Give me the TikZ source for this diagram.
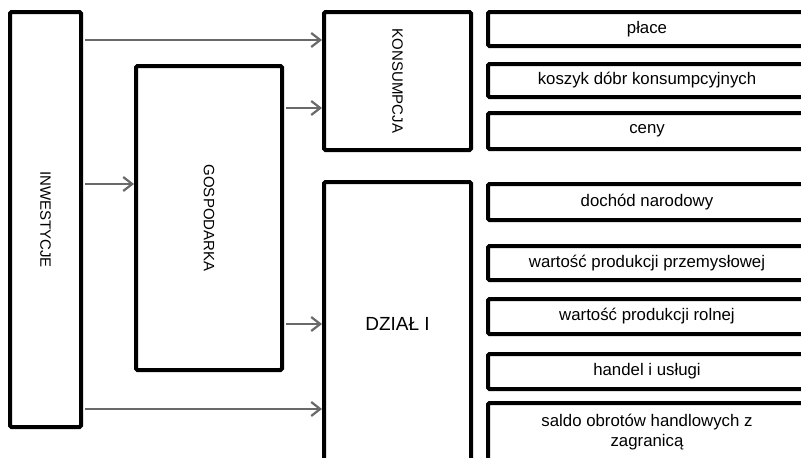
\documentclass[tikz,border=0pt]{standalone}
\usepackage{fontspec}
\setmainfont{Liberation Sans}
\usetikzlibrary{arrows.meta, positioning}
\definecolor{arrowgray}{RGB}{105, 105, 105}

\tikzset{
  box/.style={draw=black, line width=4pt, rounded corners=1.5pt, fill=white,
    inner sep=0pt, align=center},
  item/.style={box, minimum width=318pt, font=\fontsize{16.8}{20}\selectfont},
  flow/.style={draw=arrowgray, line width=2pt,
    -{Straight Barb[length=9pt, width=14pt, line width=2.2pt]}}
}

\begin{document}
\begin{tikzpicture}[x=1pt, y=-1pt]
            \useasboundingbox (0,0) rectangle (801,458);
            \clip (0,0) rectangle (801,458);
            \fill[white] (0,0) rectangle (801,458);

            % main blocks
            \node[box, minimum width=71pt, minimum height=415pt, font=\fontsize{15}{18}\selectfont]
              (inw) at (45.5,219.5) {\rotatebox{-90}{INWESTYCJE}};
            \node[box, minimum width=146pt, minimum height=304pt, font=\fontsize{15}{18}\selectfont]
              (gosp) at (209,218) {\rotatebox{-90}{GOSPODARKA}};
            \node[box, minimum width=147pt, minimum height=138pt, font=\fontsize{15}{18}\selectfont]
              (kons) at (397.5,81) {\rotatebox{-90}{KONSUMPCJA}};
            \node[box, minimum width=147pt, minimum height=284pt, font=\fontsize{19}{22}\selectfont]
              (dzial) at (397.5,324) {DZIAŁ I};

            % consumption items
            \node[item, minimum height=34pt] (place) at (647,29) {płace};
            \node[item, minimum height=33pt] (koszyk) at (647,80.5) {koszyk dóbr konsumpcyjnych};
            \node[item, minimum height=36pt] (ceny) at (647,131) {ceny};

            % sector items
            \node[item, minimum height=36pt] (dochod) at (647,202) {dochód narodowy};
            \node[item, minimum height=34pt] (przem) at (647,263) {wartość produkcji przemysłowej};
            \node[item, minimum height=35pt] (rolna) at (647,316.5) {wartość produkcji rolnej};
            \node[item, minimum height=35pt] (handel) at (647,371.5) {handel i usługi};
            \node[item, minimum height=58pt] (saldo) at (647,432) {saldo obrotów handlowych z\\zagranicą};

            % flows
            \draw[flow] ([xshift=2pt]inw.east |- 0,40) -- (kons.west |- 0,40);
            \draw[flow] ([xshift=2pt]inw.east |- 0,184) -- (gosp.west |- 0,184);
            \draw[flow] ([xshift=2pt]inw.east |- 0,409) -- (dzial.west |- 0,409);
            \draw[flow] ([xshift=2pt]gosp.east |- 0,108) -- (kons.west |- 0,108);
            \draw[flow] ([xshift=2pt]gosp.east |- 0,324) -- (dzial.west |- 0,324);
\end{tikzpicture}
\end{document}
